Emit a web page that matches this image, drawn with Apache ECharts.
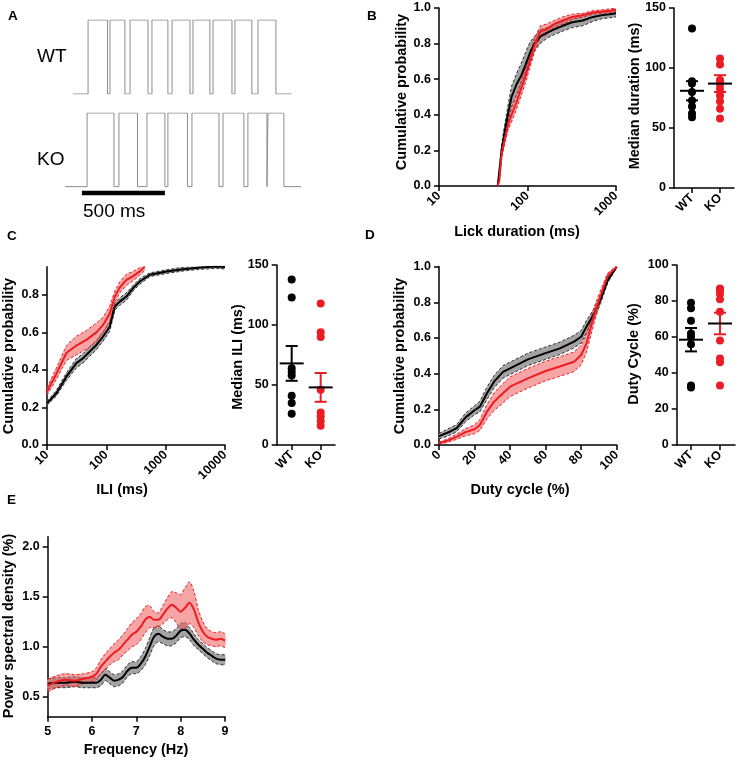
<!DOCTYPE html>
<html><head><meta charset="utf-8">
<script src="https://cdn.jsdelivr.net/npm/echarts@6/dist/echarts.min.js"></script>
<style>html,body{margin:0;padding:0;background:#fff}#c{width:738px;height:760px}</style>
</head><body><div id="c"></div>
<script>
// ---------- Panel A: lick traces (transition times in ms, level 0/1) ----------
const wtTimes  = [48, 139, 256, 271, 361, 392, 500, 524, 620, 645, 753, 771, 873, 892, 1006, 1024, 1126, 1163, 1271, 1367];
const wtLevels = [0, 1, 0, 1, 0, 1, 0, 1, 0, 1, 0, 1, 0, 1, 0, 1, 0, 1, 0, 0];
const koTimes  = [0, 133, 295, 325, 437, 494, 602, 620, 738, 765, 928, 952, 1078, 1102, 1217, 1223, 1319, 1422];
const koLevels = [0, 1, 0, 1, 0, 1, 0, 1, 0, 1, 0, 1, 0, 1, 0, 1, 0, 0];
const scaleBarMs = [102, 602];
const scaleBarLabel = '500 ms';

// ---------- Panel B: lick duration CDF ----------
const bX      = [46, 48, 51, 55, 60, 66, 75, 85, 95, 107, 120, 140, 165, 200, 250, 320, 420, 550, 700, 850, 1000];
const bWTMean = [0, 0.08, 0.2, 0.3, 0.4, 0.5, 0.57, 0.62, 0.68, 0.75, 0.8, 0.84, 0.86, 0.88, 0.9, 0.92, 0.93, 0.95, 0.96, 0.965, 0.97];
const bWTSem  = [0, 0.01, 0.03, 0.04, 0.05, 0.06, 0.06, 0.07, 0.07, 0.06, 0.04, 0.04, 0.03, 0.03, 0.03, 0.03, 0.03, 0.025, 0.02, 0.02, 0.02];
const bKOMean = [0, 0.03, 0.18, 0.26, 0.34, 0.4, 0.47, 0.55, 0.62, 0.71, 0.79, 0.87, 0.88, 0.91, 0.93, 0.95, 0.96, 0.975, 0.98, 0.985, 0.99];
const bKOSem  = [0, 0.01, 0.02, 0.03, 0.03, 0.04, 0.04, 0.04, 0.04, 0.04, 0.04, 0.03, 0.03, 0.02, 0.02, 0.015, 0.01, 0.01, 0.01, 0.01, 0.01];
// Median duration per animal
const groups = ['WT', 'KO'];
const bMedWT = [133, 89, 87, 80, 73, 68, 62, 59];
const bMedKO = [108, 103, 90, 88, 86, 82, 77, 72, 66, 58];
const bMedStats = [[81, 8], [87, 7]]; // mean, sem

// ---------- Panel C: inter-lick interval CDF ----------
const cWTX    = [10, 14.4, 21.2, 31.3, 40.5, 52.5, 68, 88, 114, 139, 168, 218, 283, 366, 541, 1035, 1977, 3777, 7220, 10000];
const cWTMean = [0.222, 0.276, 0.364, 0.436, 0.462, 0.498, 0.533, 0.578, 0.63, 0.738, 0.764, 0.791, 0.836, 0.871, 0.907, 0.924, 0.937, 0.946, 0.951, 0.948];
const cWTSem  = [0.01, 0.015, 0.02, 0.025, 0.025, 0.025, 0.025, 0.025, 0.025, 0.02, 0.02, 0.02, 0.015, 0.015, 0.01, 0.01, 0.01, 0.01, 0.01, 0.01];
const cKOX    = [10, 14.4, 21.2, 31.3, 46.1, 68.1, 88.2, 114, 138.8, 168.5, 218, 283, 366, 445];
const cKOMean = [0.285, 0.38, 0.49, 0.53, 0.56, 0.6, 0.64, 0.7, 0.79, 0.84, 0.88, 0.9, 0.925, 0.95];
const cKOSem  = [0.02, 0.03, 0.04, 0.05, 0.05, 0.05, 0.04, 0.04, 0.03, 0.03, 0.03, 0.025, 0.02, 0.02];
const cMedWT = [138, 123, 64, 61, 58, 41, 35, 26];
const cMedKO = [118, 94, 90, 46, 27, 24, 20, 16];
const cMedStats = [[68, 14.5], [48, 12]];

// ---------- Panel D: duty cycle CDF ----------
const dX      = [0, 5, 10, 15, 20, 23, 27, 31, 36, 40, 50, 60, 68, 76, 80, 83, 87, 91, 95, 100];
const dWTMean = [0.05, 0.07, 0.095, 0.155, 0.195, 0.215, 0.29, 0.355, 0.41, 0.43, 0.48, 0.515, 0.542, 0.58, 0.607, 0.664, 0.73, 0.82, 0.925, 1.0];
const dWTSem  = [0.015, 0.02, 0.02, 0.025, 0.025, 0.03, 0.035, 0.035, 0.035, 0.035, 0.035, 0.035, 0.035, 0.035, 0.035, 0.035, 0.03, 0.025, 0.015, 0.005];
const dKOMean = [0.01, 0.025, 0.047, 0.072, 0.088, 0.112, 0.187, 0.243, 0.29, 0.327, 0.374, 0.415, 0.44, 0.467, 0.505, 0.57, 0.72, 0.84, 0.95, 1.0];
const dKOSem  = [0.005, 0.01, 0.015, 0.02, 0.025, 0.03, 0.04, 0.05, 0.055, 0.055, 0.055, 0.055, 0.055, 0.055, 0.055, 0.05, 0.045, 0.03, 0.015, 0.005];
const dCycWT = [79, 76, 69, 62, 60, 56, 33, 32];
const dCycKO = [87, 86, 84, 81, 74, 58, 48, 46, 33];
const dCycStats = [[58.5, 6.5], [67.5, 6]];

// ---------- Panel E: power spectral density ----------
const eX      = [5.0, 5.2, 5.4, 5.6, 5.8, 6.0, 6.1, 6.2, 6.3, 6.4, 6.5, 6.6, 6.7, 6.8, 6.9, 7.0, 7.1, 7.2, 7.3, 7.4, 7.5, 7.6, 7.7, 7.8, 7.9, 8.0, 8.1, 8.2, 8.3, 8.4, 8.5, 8.6, 8.7, 8.8, 8.9, 9.0];
const eWTMean = [0.63, 0.64, 0.64, 0.65, 0.64, 0.64, 0.64, 0.67, 0.72, 0.69, 0.66, 0.67, 0.70, 0.76, 0.79, 0.79, 0.83, 0.90, 1.00, 1.10, 1.13, 1.10, 1.08, 1.08, 1.11, 1.16, 1.17, 1.13, 1.07, 1.02, 0.98, 0.94, 0.91, 0.88, 0.87, 0.87];
const eWTSem  = [0.05, 0.05, 0.05, 0.05, 0.05, 0.05, 0.05, 0.06, 0.06, 0.06, 0.06, 0.06, 0.06, 0.06, 0.06, 0.06, 0.07, 0.08, 0.09, 0.09, 0.08, 0.07, 0.07, 0.07, 0.07, 0.07, 0.07, 0.06, 0.06, 0.05, 0.05, 0.05, 0.05, 0.05, 0.05, 0.05];
const eKOMean = [0.61, 0.65, 0.67, 0.66, 0.68, 0.70, 0.73, 0.80, 0.85, 0.90, 0.94, 0.97, 1.02, 1.07, 1.12, 1.15, 1.20, 1.27, 1.30, 1.27, 1.27, 1.32, 1.38, 1.42, 1.39, 1.35, 1.39, 1.44, 1.37, 1.24, 1.15, 1.10, 1.08, 1.07, 1.08, 1.06];
const eKOSem  = [0.06, 0.06, 0.06, 0.06, 0.05, 0.05, 0.06, 0.07, 0.08, 0.08, 0.09, 0.10, 0.10, 0.11, 0.12, 0.13, 0.13, 0.13, 0.11, 0.08, 0.07, 0.09, 0.11, 0.13, 0.15, 0.17, 0.20, 0.21, 0.18, 0.13, 0.10, 0.08, 0.07, 0.07, 0.07, 0.07];

// tick label lists
const cdfTicks = [0, 0.2, 0.4, 0.6, 0.8];
const psdTicks = [0.5, 1.0, 1.5, 2.0];

// ---------- styling ----------
const RED = '#ec1c24', BLACK = '#000000';
const GREY_FILL = '#a3a3a3', RED_FILL = 'rgba(240,90,90,0.55)';
const FONT = '"Liberation Sans", Arial, Helvetica, sans-serif';

function ax(o) {
  const base = {
    axisLine: { show: true, onZero: false, lineStyle: { color: '#000', width: 1.5 } },
    axisTick: { show: true, length: 5, lineStyle: { color: '#000', width: 1.5 } },
    axisLabel: { color: '#000', fontWeight: 'bold', fontSize: 12.5, fontFamily: FONT },
    splitLine: { show: false }
  };
  const r = Object.assign({}, base, o);
  if (o.axisLabel) r.axisLabel = Object.assign({}, base.axisLabel, o.axisLabel);
  if (o.axisTick) r.axisTick = Object.assign({}, base.axisTick, o.axisTick);
  return r;
}
const fix1 = v => Number(v).toFixed(1);
const intLbl = v => String(Math.round(v));

const grids = [
  { left: 65, top: 20, width: 236, height: 74 },        // 0 A WT
  { left: 65, top: 113, width: 236, height: 81 },       // 1 A KO
  { left: 439, top: 8, width: 177, height: 178 },       // 2 B main
  { left: 674, top: 8, width: 60, height: 180 },        // 3 B median
  { left: 47, top: 266.7, width: 178, height: 178.3 },  // 4 C main
  { left: 276.7, top: 265, width: 58.3, height: 180 },  // 5 C median
  { left: 439, top: 266.7, width: 177.7, height: 178.3 }, // 6 D main
  { left: 676.7, top: 265, width: 58.3, height: 180 },  // 7 D duty
  { left: 47.7, top: 536.7, width: 177.3, height: 180 } // 8 E
];

const grpLabel = v => groups[Math.round(v) - 1];
const xAxes = [
  { gridIndex: 0, type: 'value', min: 0, max: 1422, show: false },
  { gridIndex: 1, type: 'value', min: 0, max: 1422, show: false },
  ax({ gridIndex: 2, type: 'log', logBase: 10, min: 10, max: 1000, axisLabel: { rotate: 45, formatter: intLbl } }),
  ax({ gridIndex: 3, type: 'value', min: 0.357, max: 2.5, axisTick: { customValues: [1, 2] }, axisLabel: { rotate: 45, customValues: [1, 2], formatter: grpLabel } }),
  ax({ gridIndex: 4, type: 'log', logBase: 10, min: 10, max: 10000, axisLabel: { rotate: 45, formatter: intLbl } }),
  ax({ gridIndex: 5, type: 'value', min: 0.483, max: 2.494, axisTick: { customValues: [1, 2] }, axisLabel: { rotate: 45, customValues: [1, 2], formatter: grpLabel } }),
  ax({ gridIndex: 6, type: 'value', min: 0, max: 100, interval: 20, axisLabel: { rotate: 45 } }),
  ax({ gridIndex: 7, type: 'value', min: 0.507, max: 2.518, axisTick: { customValues: [1, 2] }, axisLabel: { rotate: 45, customValues: [1, 2], formatter: grpLabel } }),
  ax({ gridIndex: 8, type: 'value', min: 5, max: 9, interval: 1 })
];
const yAxes = [
  { gridIndex: 0, type: 'value', min: 0, max: 1, show: false },
  { gridIndex: 1, type: 'value', min: -0.1, max: 1, show: false },
  ax({ gridIndex: 2, type: 'value', min: 0, max: 1, interval: 0.2, axisLabel: { formatter: fix1 } }),
  ax({ gridIndex: 3, type: 'value', min: 0, max: 150, interval: 50 }),
  ax({ gridIndex: 4, type: 'value', min: 0, max: 0.95, interval: 0.2, axisTick: { customValues: cdfTicks }, axisLabel: { customValues: cdfTicks, formatter: fix1 } }),
  ax({ gridIndex: 5, type: 'value', min: 0, max: 150, interval: 50 }),
  ax({ gridIndex: 6, type: 'value', min: 0, max: 1, interval: 0.2, axisLabel: { formatter: fix1 } }),
  ax({ gridIndex: 7, type: 'value', min: 0, max: 100, interval: 20 }),
  ax({ gridIndex: 8, type: 'value', min: 0.3, max: 2.1, axisTick: { customValues: psdTicks }, axisLabel: { customValues: psdTicks, formatter: fix1 } })
];

// mean line with a shaded ±SEM band (band drawn as one polygon through the axes' coord())
function band(i, xs, mean, sem, lineCol, fill, dashCol, smooth) {
  const lo = xs.map((x, k) => [x, mean[k] - sem[k]]);
  const hi = xs.map((x, k) => [x, mean[k] + sem[k]]);
  const sm = smooth || 0;
  return [
    { type: 'custom', xAxisIndex: i, yAxisIndex: i, silent: true, animation: false, clip: true,
      data: xs.map((x, k) => [x, mean[k] - sem[k], mean[k] + sem[k]]),
      renderItem: (p, api) => {
        if (p.dataIndex !== 0) return null;
        const L = lo.map(d => api.coord(d)), H = hi.map(d => api.coord(d));
        const dash = { stroke: dashCol, lineWidth: 1, lineDash: [3, 2], fill: null };
        return { type: 'group', children: [
          { type: 'polygon', shape: { points: L.concat(H.slice().reverse()), smooth: sm }, style: { fill: fill, stroke: null } },
          { type: 'polyline', shape: { points: L, smooth: sm }, style: dash },
          { type: 'polyline', shape: { points: H, smooth: sm }, style: dash }
        ] };
      } },
    { type: 'line', xAxisIndex: i, yAxisIndex: i, symbol: 'none', silent: true, animation: false, smooth: smooth || false,
      data: xs.map((x, k) => [x, mean[k]]), lineStyle: { color: lineCol, width: 2 } }
  ];
}

function dots(i, vals, g, col) {
  return { type: 'scatter', xAxisIndex: i, yAxisIndex: i, symbolSize: 8, silent: true, animation: false,
    itemStyle: { color: col, opacity: 1 }, data: vals.map(v => [g, v]), z: 3 };
}
function meanSem(i, stats) {
  return { type: 'custom', xAxisIndex: i, yAxisIndex: i, silent: true, animation: false, z: 5,
    data: stats.map((s, k) => [k + 1, s[0], s[1], k]),
    renderItem: (p, api) => {
      const x = api.value(0), m = api.value(1), s = api.value(2);
      const col = api.value(3) ? RED : BLACK;
      const c = api.coord([x, m]), t = api.coord([x, m + s]), b = api.coord([x, m - s]);
      const st = { stroke: col, lineWidth: 2 };
      return { type: 'group', children: [
        { type: 'line', shape: { x1: c[0], y1: t[1], x2: c[0], y2: b[1] }, style: st },
        { type: 'line', shape: { x1: c[0] - 6, y1: t[1], x2: c[0] + 6, y2: t[1] }, style: st },
        { type: 'line', shape: { x1: c[0] - 6, y1: b[1], x2: c[0] + 6, y2: b[1] }, style: st },
        { type: 'line', shape: { x1: c[0] - 12, y1: c[1], x2: c[0] + 12, y2: c[1] }, style: { stroke: BLACK, lineWidth: 2 } }
      ] };
    } };
}

const traceStyle = { color: '#8c8c8c', width: 1 };
const series = [
  { type: 'line', xAxisIndex: 0, yAxisIndex: 0, step: 'end', symbol: 'none', silent: true, animation: false,
    data: wtTimes.map((t, k) => [t, wtLevels[k]]), lineStyle: traceStyle },
  { type: 'line', xAxisIndex: 1, yAxisIndex: 1, step: 'end', symbol: 'none', silent: true, animation: false,
    data: koTimes.map((t, k) => [t, koLevels[k]]), lineStyle: traceStyle },
  { type: 'line', xAxisIndex: 1, yAxisIndex: 1, symbol: 'none', silent: true, animation: false, clip: false,
    data: scaleBarMs.map(t => [t, -0.085]), lineStyle: { color: '#000', width: 4.5 } },

  ...band(2, bX, bWTMean, bWTSem, BLACK, GREY_FILL, '#333'),
  ...band(2, bX, bKOMean, bKOSem, RED, RED_FILL, RED),
  dots(3, bMedWT, 1, BLACK), dots(3, bMedKO, 2, RED), meanSem(3, bMedStats),

  ...band(4, cWTX, cWTMean, cWTSem, BLACK, GREY_FILL, '#333'),
  ...band(4, cKOX, cKOMean, cKOSem, RED, RED_FILL, RED),
  dots(5, cMedWT, 1, BLACK), dots(5, cMedKO, 2, RED), meanSem(5, cMedStats),

  ...band(6, dX, dWTMean, dWTSem, BLACK, GREY_FILL, '#333'),
  ...band(6, dX, dKOMean, dKOSem, RED, RED_FILL, RED),
  dots(7, dCycWT, 1, BLACK), dots(7, dCycKO, 2, RED), meanSem(7, dCycStats),

  ...band(8, eX, eWTMean, eWTSem, BLACK, GREY_FILL, '#333', 0.3),
  ...band(8, eX, eKOMean, eKOSem, RED, RED_FILL, RED, 0.3)
];

function txt(s, x, y, o) {
  o = o || {};
  return { type: 'text', x: x, y: y, rotation: o.rot ? Math.PI / 2 : 0, silent: true, z: 100,
    style: { text: s, fill: '#000', fontFamily: FONT, fontSize: o.size || 14.5, fontWeight: o.weight || 'bold',
      align: o.align || 'center', verticalAlign: 'middle' } };
}
const graphics = [
  txt('A', 8, 16, { align: 'left', size: 13.5 }), txt('B', 367, 16, { align: 'left', size: 13.5 }),
  txt('C', 7, 236, { align: 'left', size: 13.5 }), txt('D', 365, 235, { align: 'left', size: 13.5 }),
  txt('E', 7, 500, { align: 'left', size: 13.5 }),
  txt('WT', 37, 57, { align: 'left', size: 19, weight: 'normal' }),
  txt('KO', 37, 160, { align: 'left', size: 19, weight: 'normal' }),
  txt(scaleBarLabel, 83, 212, { align: 'left', size: 19, weight: 'normal' }),
  txt('Cumulative probability', 402, 92, { rot: true }),
  txt('Lick duration (ms)', 517, 232),
  txt('Median duration (ms)', 635, 96, { rot: true }),
  txt('Cumulative probability', 8.5, 356, { rot: true }),
  txt('ILI (ms)', 122, 490),
  txt('Median ILI (ms)', 237.5, 357, { rot: true }),
  txt('Cumulative probability', 400, 356, { rot: true }),
  txt('Duty cycle (%)', 520, 490),
  txt('Duty Cycle (%)', 634, 354, { rot: true }),
  txt('Power spectral density (%)', 8.5, 626, { rot: true }),
  txt('Frequency (Hz)', 136, 750)
];

const chart = echarts.init(document.getElementById('c'), null, { renderer: 'canvas' });
chart.setOption({
  animation: false,
  backgroundColor: '#fff',
  grid: grids,
  xAxis: xAxes,
  yAxis: yAxes,
  series: series,
  graphic: graphics
});
</script></body></html>
